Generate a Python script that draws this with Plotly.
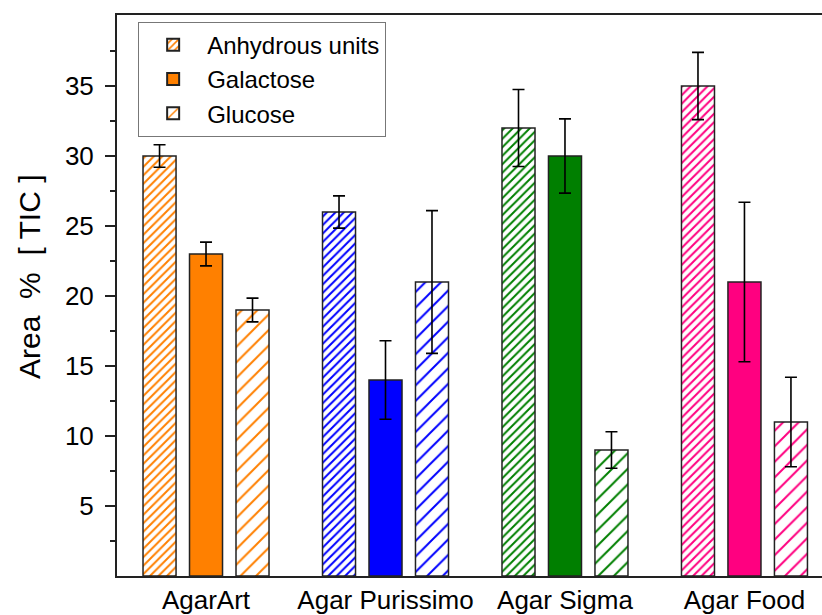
import plotly.graph_objects as go

# Samples and measured peak-area percentages (TIC)
samples = ["AgarArt", "Agar Purissimo", "Agar Sigma", "Agar Food"]
sample_colors = ["#FF8000", "#0000FF", "#007F00", "#FF0080"]

anhydrous = [30, 26, 32, 35]
anhydrous_err = [0.8, 1.15, 2.75, 2.4]

galactose = [23, 14, 30, 21]
galactose_err = [0.85, 2.8, 2.65, 5.7]

glucose = [19, 21, 9, 11]
glucose_err = [0.85, 5.1, 1.3, 3.2]

y_ticks = [5, 10, 15, 20, 25, 30, 35]

FONT = "Arial, Liberation Sans, sans-serif"
x_pos = list(range(len(samples)))

BAR_W = 0.184      # bar width in category units
SLOT = 0.259       # distance between bar centres within a group


def err(values):
    return dict(type="data", array=values, visible=True, color="black",
                thickness=1.6, width=6)


bar_line = dict(color="#222222", width=1.5)

fig = go.Figure()


def hatched_series(name, values, errors, shift, size, solidity):
    # one trace per sample so every bar gets its own hatch colour
    for i, (v, e, c) in enumerate(zip(values, errors, sample_colors)):
        fig.add_trace(go.Bar(
            name=name, legendgroup=name, showlegend=(i == 0),
            x=[x_pos[i]], y=[v], error_y=err([e]),
            offset=shift - BAR_W / 2, width=BAR_W,
            marker=dict(color="white", line=bar_line,
                        pattern=dict(shape="/", size=size, solidity=solidity,
                                     fillmode="overlay", fgcolor=c,
                                     fgopacity=1)),
        ))


hatched_series("Anhydrous units", anhydrous, anhydrous_err, -SLOT, 6, 0.33)

fig.add_trace(go.Bar(
    name="Galactose", legendgroup="Galactose", x=x_pos, y=galactose,
    error_y=err(galactose_err), offset=-BAR_W / 2, width=BAR_W,
    marker=dict(color=sample_colors, line=bar_line),
))

hatched_series("Glucose", glucose, glucose_err, SLOT, 11, 0.18)

fig.add_annotation(
    text="Area  %  [ TIC ]", textangle=-90, showarrow=False,
    xref="paper", yref="paper", x=-0.1234, y=0.533,
    xanchor="center", yanchor="middle", font=dict(size=30),
)

fig.update_layout(
    width=822, height=615,
    margin=dict(l=117, r=0, t=15, b=35),
    paper_bgcolor="white", plot_bgcolor="white",
    barmode="overlay",
    font=dict(family=FONT, size=24, color="black"),
    showlegend=True,
    legend=dict(x=0.03, y=0.988, xanchor="left", yanchor="top",
                bgcolor="white", bordercolor="#777777", borderwidth=1,
                font=dict(size=24), tracegroupgap=0, itemwidth=58,
                itemsizing="constant"),
    xaxis=dict(range=[-0.496, 3.432], tickvals=x_pos, ticktext=samples,
               showline=True, linecolor="#222222", linewidth=2, mirror=True,
               ticks="", showgrid=False, zeroline=False,
               tickfont=dict(size=26)),
    yaxis=dict(range=[0, 40.07], tickvals=y_ticks, showline=True,
               linecolor="#222222", linewidth=2, ticks="outside", ticklen=10,
               tickwidth=1.6, tickcolor="#222222", showgrid=False,
               zeroline=False, ticklabelstandoff=6,
               tickfont=dict(size=26),
               minor=dict(tickvals=[2.5, 7.5, 12.5, 17.5, 22.5, 27.5, 32.5, 37.5],
                          ticks="outside", ticklen=5, tickwidth=1.6,
                          tickcolor="#222222", showgrid=False)),
)

fig.write_html("out.html")
